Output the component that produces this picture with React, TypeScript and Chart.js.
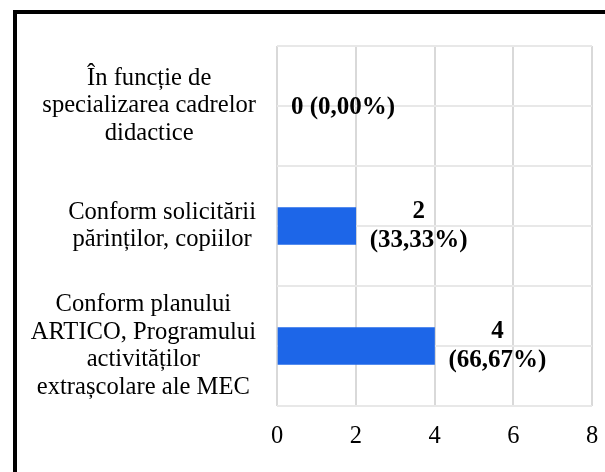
import React, { useEffect, useRef } from "react";
import { Chart, registerables } from "chart.js";

Chart.register(...registerables);

const categories: string[][] = [
  ["În funcție de", "specializarea cadrelor", "didactice"],
  ["Conform solicitării", "părinților, copiilor"],
  ["Conform planului", "ARTICO, Programului", "activităților", "extrașcolare ale MEC"],
];
const values: number[] = [0, 2, 4];
const valueLabels: string[] = ["0 (0,00%)", "2\n(33,33%)", "4\n(66,67%)"];
const xMin = 0;
const xMax = 8;
const xStep = 2;

const SERIF = '"Liberation Serif", "Times New Roman", serif';
const BAR_COLOR = "#1d66e8";

const labelPlugin = {
  id: "customLabels",
  afterDraw(chart: any) {
    const ctx = chart.ctx as CanvasRenderingContext2D;
    const yScale = chart.scales.y;
    ctx.save();
    ctx.fillStyle = "#000";
    ctx.textBaseline = "middle";
    ctx.textAlign = "center";

    // category labels: block right-aligned, lines centered within block
    ctx.font = `24.6px ${SERIF}`;
    const lh = 27.6;
    const right = yScale.right - 21;
    categories.forEach((lines, i) => {
      const cy = yScale.getPixelForValue(i);
      const w = Math.max(...lines.map((l) => ctx.measureText(l).width));
      const cx = right - w / 2;
      lines.forEach((l, j) => {
        ctx.fillText(l, cx, cy + (j - (lines.length - 1) / 2) * lh);
      });
    });

    // value labels
    ctx.font = `bold 25px ${SERIF}`;
    const vlh = 29;
    const meta = chart.getDatasetMeta(0);
    meta.data.forEach((bar: any, i: number) => {
      const lines = valueLabels[i].split("\n");
      const w = Math.max(...lines.map((l) => ctx.measureText(l).width));
      const cx = bar.x + 14 + w / 2;
      const cy = bar.y + (lines.length === 1 ? 2 : 0);
      lines.forEach((l, j) => {
        ctx.fillText(l, cx, cy + (j - (lines.length - 1) / 2) * vlh);
      });
    });
    ctx.restore();
  },
};

export default function App() {
  const ref = useRef<HTMLCanvasElement | null>(null);

  useEffect(() => {
    if (!ref.current) return;
    const labels = categories.map((c) => c.join(" "));
    const chart = new Chart(ref.current, {
      type: "bar",
      data: {
        labels,
        datasets: [
          {
            data: values,
            backgroundColor: (c: any) => (c.raw === 0 ? "rgba(0,0,0,0)" : BAR_COLOR),
            borderWidth: 0,
            barThickness: 37,
            yAxisID: "y",
            xAxisID: "x",
          },
        ],
      },
      options: {
        indexAxis: "y",
        animation: false,
        responsive: false,
        maintainAspectRatio: false,
        layout: { padding: { top: 46, right: 13, left: 0, bottom: 0 } },
        plugins: {
          legend: { display: false },
          tooltip: { enabled: false },
        },
        scales: {
          x: {
            type: "linear",
            min: xMin,
            max: xMax,
            ticks: {
              stepSize: xStep,
              color: "#000",
              font: { family: SERIF, size: 24.5 },
              padding: 16,
            },
            grid: { color: "#d9d9d9", lineWidth: 2, drawTicks: false },
            border: { display: false },
            afterFit(s: any) {
              s.height = 66;
              s.paddingLeft = 0;
              s.paddingRight = 0;
            },
          },
          y: {
            type: "category",
            position: "left",
            offset: true,
            ticks: { display: false },
            grid: { offset: true, color: "#e8e8e8", lineWidth: 2, drawTicks: false },
            border: { display: false },
            afterFit(s: any) {
              s.width = 277;
            },
          },
          y2: {
            type: "category",
            position: "left",
            offset: true,
            ticks: { display: false },
            grid: { offset: false, color: "#e8e8e8", lineWidth: 2, drawTicks: false },
            border: { display: false },
            afterFit(s: any) {
              s.width = 0;
            },
          },
        },
      } as any,
      plugins: [labelPlugin],
    });
    return () => chart.destroy();
  }, []);

  return (
    <div
      style={{
        position: "fixed",
        left: 0,
        top: 0,
        width: 605,
        height: 472,
        background: "#fff",
        overflow: "hidden",
      }}
    >
      <div
        style={{
          position: "absolute",
          left: 13,
          top: 10,
          width: 700,
          height: 600,
          borderLeft: "4px solid #000",
          borderTop: "4px solid #000",
        }}
      />
      <canvas
        ref={ref}
        width={605}
        height={472}
        style={{ position: "absolute", left: 0, top: 0, width: 605, height: 472 }}
      />
    </div>
  );
}
